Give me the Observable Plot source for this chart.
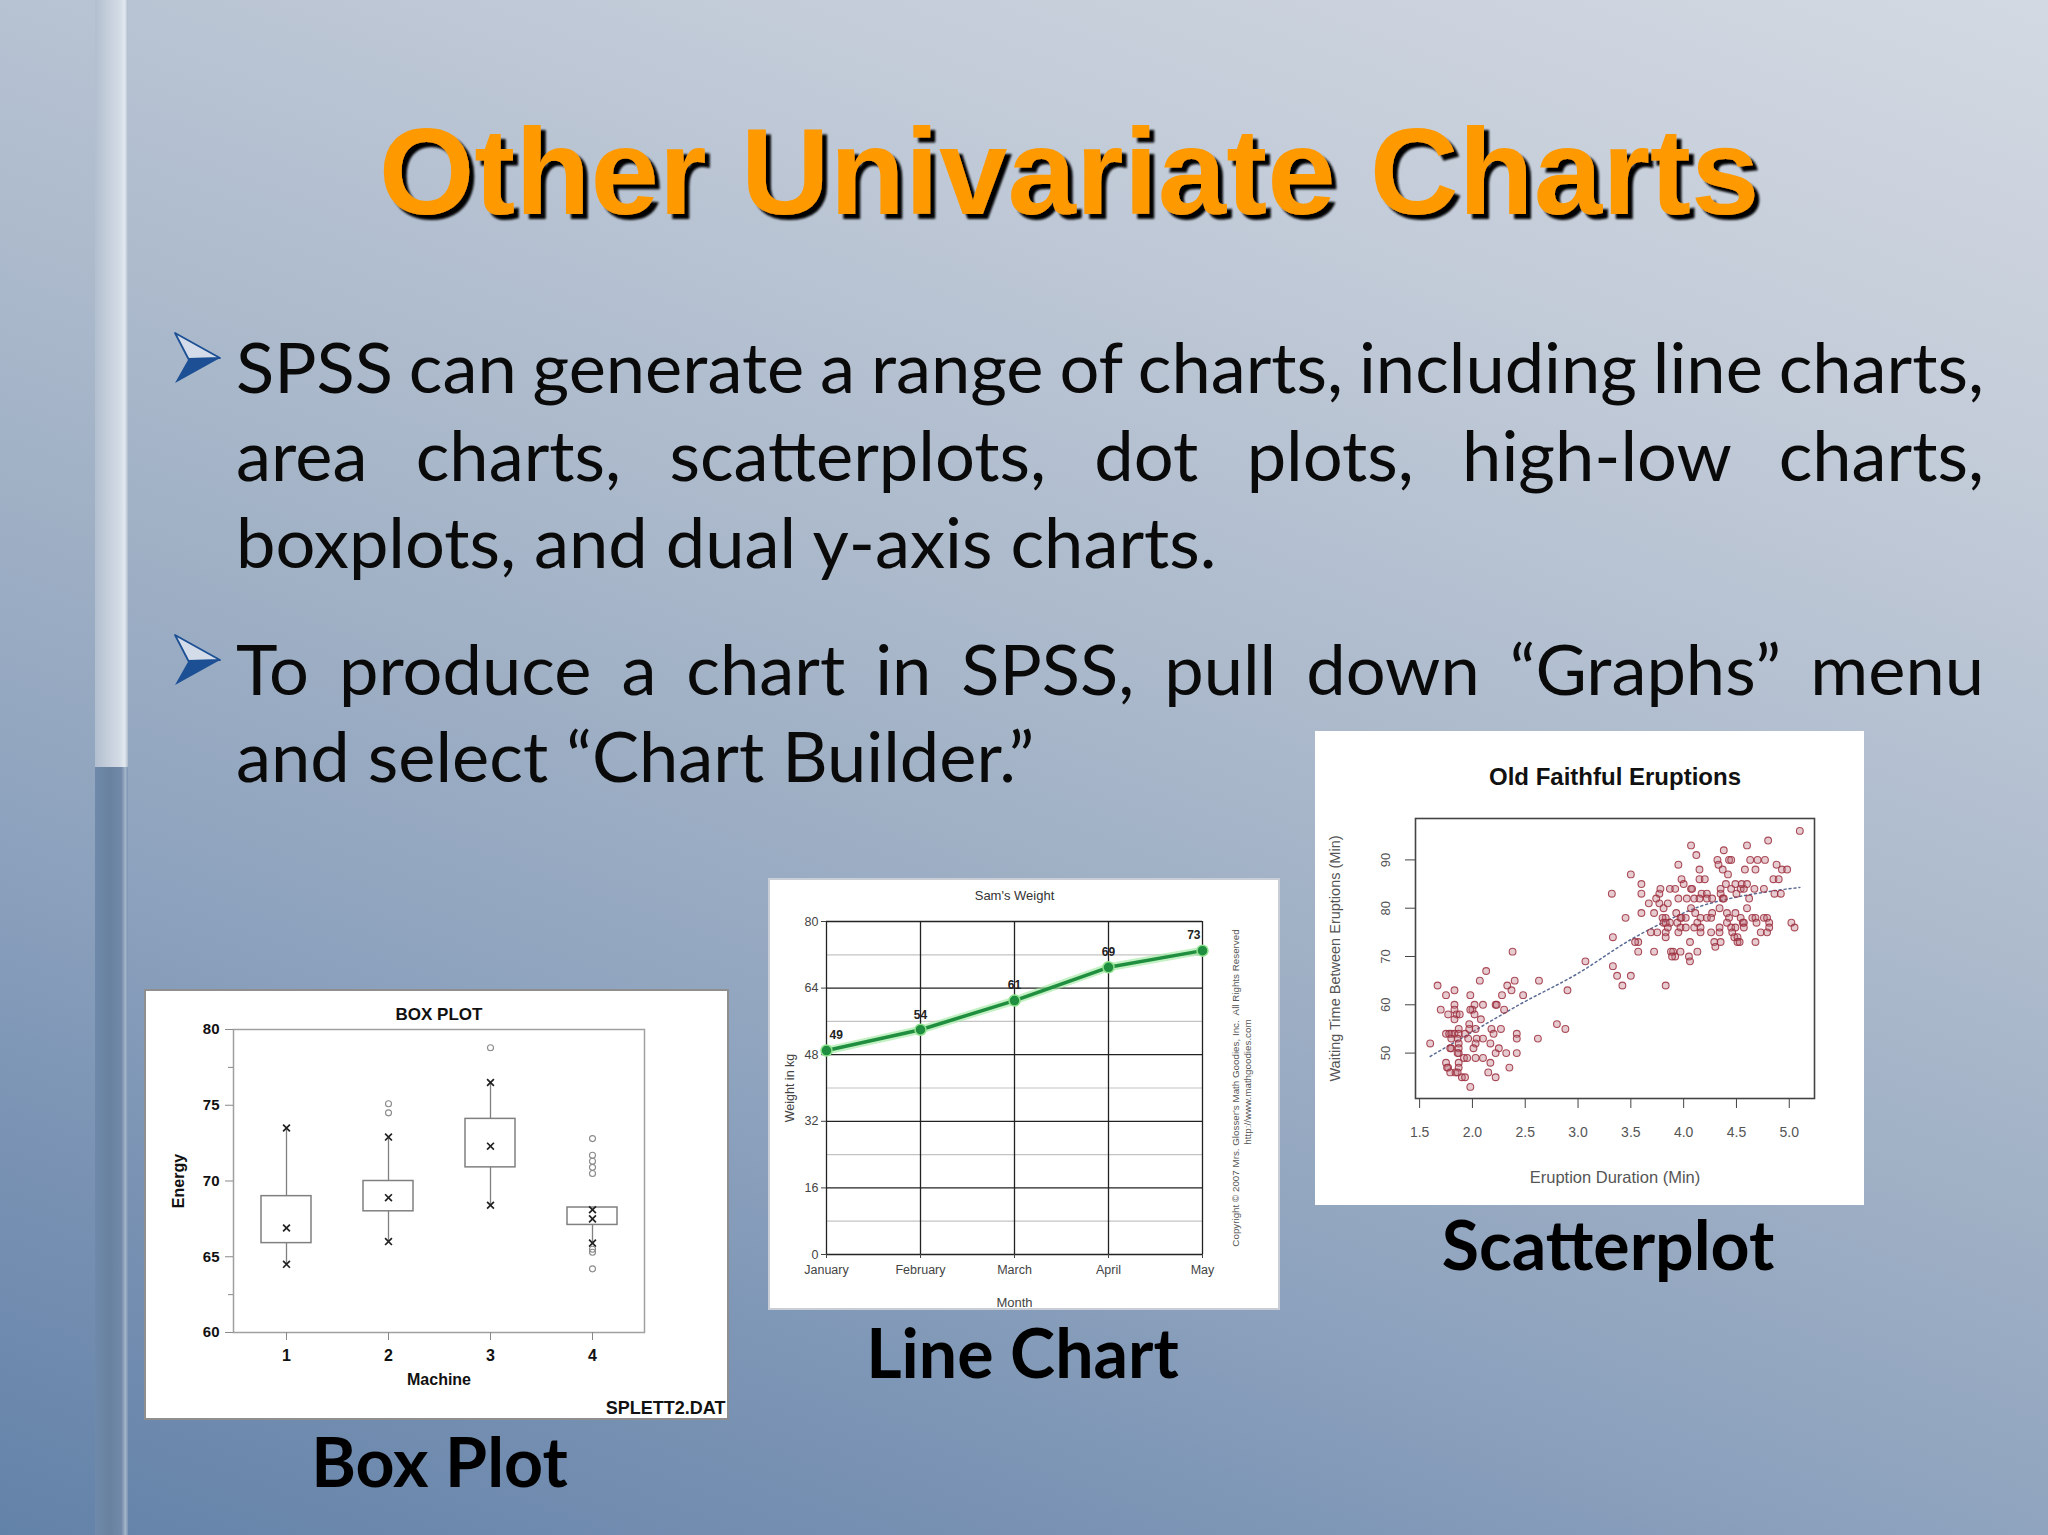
<!DOCTYPE html>
<html>
<head>
<meta charset="utf-8">
<script src="https://cdn.jsdelivr.net/npm/d3@7"></script>
<script src="https://cdn.jsdelivr.net/npm/@observablehq/plot@0.6"></script>
<style>
  html, body { margin: 0; padding: 0; }
  body {
    width: 2048px; height: 1535px; overflow: hidden; position: relative;
    background: linear-gradient(200deg, #D3D9E2 0%, #C2CBD8 22%, #B1BECF 38%, #A2B2C6 52%, #8EA3BE 68%, #7690B2 85%, #6382A8 100%);
  }
  .abs { position: absolute; }
  #overlay { position: absolute; left: 0; top: 0; }
</style>
</head>
<body>
<div class="abs" style="left:95px;top:0;width:33px;height:767px;background:linear-gradient(to right,#B2BFCF 0%,#C3CDDA 35%,#D3DBE5 75%,#E2E8EF 90%,#AEBBCB 100%)"></div>
<div class="abs" style="left:95px;top:767px;width:33px;height:768px;background:linear-gradient(to right,#6F89AB 0%,#68829F 45%,#7289A9 80%,#A4B5CA 92%,#7A92B2 100%)"></div>
<svg id="overlay" width="2048" height="1535"></svg>
<div id="boxChart" class="abs" style="left:144px;top:989px;width:585px;height:431px"></div>
<div id="lineChart" class="abs" style="left:768px;top:878px;width:512px;height:432px"></div>
<div id="scatterChart" class="abs" style="left:1315px;top:731px;width:549px;height:474px"></div>
<script>
// ---------------- DATA ----------------
// Box plot (SPLETT2.DAT)
const machines = [1, 2, 3, 4];
const boxQ1 = [65.9, 68.0, 70.9, 67.1];
const boxQ3 = [69.0, 70.0, 74.1, 68.25];
const whiskerLow = [64.5, 66.0, 68.4, 65.9];
const whiskerHigh = [73.5, 72.9, 76.5, 68.1];
const centerMark = [66.9, 68.9, 72.3, 67.5];
const outlierMachine = [2, 2, 3, 4, 4, 4, 4, 4, 4, 4, 4];
const outlierEnergy = [75.1, 74.5, 78.8, 72.8, 71.7, 71.3, 70.9, 70.5, 65.5, 65.3, 64.2];
const boxYTicks = [60, 65, 70, 75, 80];
const boxYMinor = [62.5, 77.5];

// Line chart (Sam's Weight)
const months = ["January", "February", "March", "April", "May"];
const weights = [49, 54, 61, 69, 73];
const weightMajor = [0, 16, 32, 48, 64, 80];
const weightMinor = [8, 24, 40, 56, 72];

// Scatterplot (Old Faithful) [eruption duration (min), waiting time (min)]
const faithfulPoints = [
  [2.38,71],[2.13,67],[1.67,64],[2.07,65],[2.40,65],[2.63,65],[2.33,64],[2.37,63],[2.90,63],[1.83,63],
  [1.75,62],[1.98,62],[2.28,62],[2.48,62],[1.83,60],[1.83,59],[2.02,60],[2.10,60],[2.22,60],[2.23,60],
  [2.00,59],[1.98,59],[1.70,59],[2.30,59],[1.77,58],[1.85,58],[2.02,58],[1.88,58],[2.08,57],[1.83,57],
  [1.97,56],[1.97,55],[2.80,56],[2.88,55],[1.87,55],[2.18,55],[2.27,55],[2.20,54],[1.75,54],[1.78,54],
  [1.80,54],[1.83,54],[1.87,54],[2.42,54],[1.93,54],[2.03,55],[2.42,53],[1.86,53],[1.96,53],[2.04,53],
  [2.10,53],[2.62,53],[1.60,52],[1.80,53],[1.87,52],[2.03,52],[2.17,52],[1.80,51],[1.79,51],[1.87,51],
  [2.01,51],[2.25,51],[2.22,50],[2.32,50],[2.42,50],[1.87,50],[1.86,50],[1.92,49],[1.95,49],[2.03,49],
  [2.10,49],[1.87,48],[1.75,48],[1.77,47],[2.17,48],[1.87,47],[1.76,47],[1.79,46],[2.35,47],[1.84,46],
  [1.86,46],[2.15,46],[1.90,45],[1.93,45],[2.22,45],[1.98,43],
  [3.07,69],[3.33,74],[3.33,68],[3.37,66],[3.50,66],[3.42,64],[3.45,78],[3.60,79],[3.72,79],[3.57,73],
  [3.57,71],[3.72,71],[3.83,64],[3.90,71],[3.92,70],[3.75,75],[3.83,75],[3.83,74],[3.83,78],[3.85,76],
  [3.67,81],[3.77,81],[3.81,80],[3.93,79],[3.32,83],[3.50,87],[3.60,85],[3.60,83],[3.77,83],[3.74,82],
  [5.10,96],[4.80,94],[4.60,93],[4.07,93],[4.12,91],[4.38,92],[4.32,90],[4.33,89],[4.37,88],[4.43,90],
  [4.45,90],[4.63,90],[4.70,90],[4.77,90],[4.88,89],[4.93,88],[4.98,88],[4.58,88],[4.68,88],[4.15,88],
  [4.42,87],[4.15,86],[4.20,86],[3.98,86],[4.00,85],[4.85,86],[4.90,86],[3.87,84],[3.92,84],[4.07,84],
  [4.08,84],[3.78,84],[4.17,83],[4.22,83],[4.03,82],[4.10,82],[4.15,82],[4.22,82],[4.27,82],[4.35,83],
  [4.37,82],[4.38,82],[4.49,85],[4.54,84],[4.57,84],[4.67,84],[4.76,84],[4.86,83],[4.92,83],[3.95,89],
  [3.95,82],[3.85,81],[3.98,78],[4.02,78],[4.07,80],[4.11,79],[4.16,78],[4.22,78],[4.27,79],[4.26,78],
  [4.34,80],[4.41,79],[4.43,78],[4.49,79],[4.54,78],[4.56,77],[4.60,80],[4.65,78],[4.68,78],[4.76,78],
  [4.79,78],[4.81,77],[4.81,76],[5.02,77],[5.05,76],[3.80,78],[3.81,77],[3.87,77],[3.94,77],[3.97,78],
  [4.10,76],[4.13,77],[4.16,76],[3.97,76],[4.02,76],[3.83,77],[3.95,75],[4.26,75],[4.34,76],[4.34,75],
  [4.41,77],[4.45,76],[4.49,76],[4.57,77],[4.57,76],[4.69,77],[4.73,75],[4.79,75],[3.69,75],[3.54,73],
  [3.88,71],[3.89,70],[3.97,71],[4.05,70],[4.06,69],[4.13,71],[4.06,73],[4.16,75],[4.29,73],[4.30,72],
  [4.35,73],[4.46,75],[4.48,74],[4.51,74],[4.51,73],[4.53,73],[4.68,73],[4.62,82],[4.50,83],[4.45,84],
  [4.55,85],[4.60,85],[4.40,85],[4.35,84]
];
const trendX = [1.6, 2.0, 2.45, 3.0, 3.5, 3.85, 4.16, 4.48, 4.79, 5.1];
const trendY = [49.3, 54.4, 60.1, 66.5, 73.5, 77.5, 80.4, 82.2, 83.4, 84.3];
const eruptionTicks = [1.5, 2.0, 2.5, 3.0, 3.5, 4.0, 4.5, 5.0];
const waitingTicks = [50, 60, 70, 80, 90];

// Slide text
const slideTitle = "Other Univariate Charts";
const bulletLines = [
  {text: "SPSS can generate a range of charts, including line charts,", y: 393, justify: true},
  {text: "area charts, scatterplots, dot plots, high-low charts,", y: 481, justify: true},
  {text: "boxplots, and dual y-axis charts.", y: 568, justify: false},
  {text: "To produce a chart in SPSS, pull down \u201CGraphs\u201D menu", y: 695, justify: true},
  {text: "and select \u201CChart Builder.\u201D", y: 782, justify: false}
];
const bulletTops = [333, 635];
const captions = [
  {text: "Box Plot", x: 439.5, y: 1487},
  {text: "Line Chart", x: 1022.5, y: 1378},
  {text: "Scatterplot", x: 1608, y: 1270}
];

// ---------------- SLIDE TEXT ----------------
const ov = d3.select("#overlay");
const defs = ov.append("defs");
const flt = defs.append("filter").attr("id", "titleShadow")
  .attr("x", "-5%").attr("y", "-30%").attr("width", "115%").attr("height", "170%");
flt.append("feDropShadow").attr("dx", 5).attr("dy", 5).attr("stdDeviation", 0.8)
  .attr("flood-color", "#000").attr("flood-opacity", 1);

ov.append("text")
  .attr("x", 1069).attr("y", 214).attr("text-anchor", "middle")
  .attr("font-family", "'Liberation Sans', Arial, sans-serif")
  .attr("font-weight", "bold").attr("font-size", 123)
  .attr("fill", "#FF9900").attr("filter", "url(#titleShadow)")
  .text(slideTitle);

const bodyG = ov.append("g").attr("font-family", "Lato, 'Open Sans', sans-serif").attr("fill", "#0a0a0a");
function measure(str, size, weight) {
  const t = bodyG.append("text").attr("font-size", size).attr("font-weight", weight || "normal").text(str);
  const w = t.node().getComputedTextLength();
  t.remove();
  return w;
}
const fsA = 100 * 966 / measure(bulletLines[2].text, 100);
const fsB = 100 * 810 / measure(bulletLines[4].text, 100);
const bodySize = (fsA + fsB) / 2;
const textLeft = 236, textRight = 1984;
for (const ln of bulletLines) {
  const t = bodyG.append("text").attr("x", textLeft).attr("y", ln.y)
    .attr("font-size", bodySize).text(ln.text);
  if (ln.justify) {
    const w = measure(ln.text, bodySize);
    const n = (ln.text.match(/ /g) || []).length;
    const ws = (textRight - textLeft - w) / n;
    t.style("word-spacing", ws + "px");
  }
}
for (const top of bulletTops) {
  const g = ov.append("g").attr("transform", `translate(175,${top})`);
  g.append("path").attr("d", "M0,0 L45,25 L13.5,26 Z")
    .attr("fill", "#D3DCE8").attr("stroke", "#1C4F94").attr("stroke-width", 1.8).attr("stroke-linejoin", "round");
  g.append("path").attr("d", "M13.5,26 L45,25 L0,50 Z").attr("fill", "#1C4F94");
}
const capSize = (100 * 340 / measure("Scatterplot", 100, "bold") + 100 * 251 / measure("Box Plot", 100, "bold")) / 2;
for (const c of captions) {
  bodyG.append("text").attr("x", c.x).attr("y", c.y).attr("text-anchor", "middle")
    .attr("font-size", capSize).attr("font-weight", "bold").attr("fill", "#000").text(c.text);
}

// ---------------- BOX PLOT ----------------
const boxData = machines.map((m, i) => ({machine: m, q1: boxQ1[i], q3: boxQ3[i], lo: whiskerLow[i], hi: whiskerHigh[i], mid: centerMark[i]}));
const markData = boxData.flatMap(d => [
  {machine: d.machine, energy: d.lo}, {machine: d.machine, energy: d.hi}, {machine: d.machine, energy: d.mid}
]);
const outData = outlierMachine.map((m, i) => ({machine: m, energy: outlierEnergy[i]}));
const mid = {textAnchor: "middle", lineAnchor: "middle"};

const boxPlot = Plot.plot({
  width: 585, height: 431,
  marginLeft: 89, marginRight: 85, marginTop: 40, marginBottom: 88,
  style: {background: "white", fontFamily: "'Liberation Sans', Arial, sans-serif", color: "#111", outline: "2px solid #8f8f8f", outlineOffset: "-2px"},
  x: {type: "band", domain: machines, paddingInner: 0.513, paddingOuter: 0.255},
  y: {domain: [60, 80]},
  marks: [
    Plot.frame({stroke: "#a0a0a0", strokeWidth: 1.5}),
    Plot.ruleX(boxData, {x: "machine", y1: "lo", y2: "hi", stroke: "#808080", strokeWidth: 1.3}),
    Plot.barY(boxData, {x: "machine", y1: "q1", y2: "q3", fill: "white", stroke: "#808080", strokeWidth: 1.5}),
    Plot.dot(markData, {x: "machine", y: "energy", symbol: "times", r: 3.2, stroke: "#222", strokeWidth: 1.7}),
    Plot.dot(outData, {x: "machine", y: "energy", r: 3, fill: "none", stroke: "#8a8a8a", strokeWidth: 1.1}),
    Plot.axisY({ticks: boxYTicks, tickSize: 8, tickPadding: 6, fontSize: 15, fontWeight: "bold", fill: "#111", stroke: "#888", label: null}),
    Plot.axisY({ticks: boxYMinor, tickSize: 5, fill: "none", stroke: "#888", label: null}),
    Plot.axisX({tickSize: 8, tickPadding: 9, fontSize: 16, fontWeight: "bold", fill: "#111", stroke: "#888", label: null}),
    Plot.text(["BOX PLOT"], {...mid, frameAnchor: "top", dy: -15, fontSize: 17, fontWeight: "bold"}),
    Plot.text(["Machine"], {...mid, frameAnchor: "bottom", dy: 47, fontSize: 16, fontWeight: "bold"}),
    Plot.text(["Energy"], {...mid, frameAnchor: "left", dx: -55, rotate: -90, fontSize: 16, fontWeight: "bold"}),
    Plot.text(["SPLETT2.DAT"], {frameAnchor: "bottom-right", dx: 81, dy: 76, textAnchor: "end", lineAnchor: "middle", fontSize: 18, fontWeight: "bold"})
  ]
});
document.getElementById("boxChart").append(boxPlot);

// ---------------- LINE CHART ----------------
const lineData = months.map((m, i) => ({month: m, weight: weights[i]}));
const lineLabel = {x: "month", y: "weight", text: d => String(d.weight), dy: -15, fontWeight: "bold", fontSize: 12, fill: "#222"};
const linePlot = Plot.plot({
  width: 512, height: 432,
  marginLeft: 58, marginRight: 78, marginTop: 43, marginBottom: 56,
  style: {background: "white", fontFamily: "'Liberation Sans', Arial, sans-serif", color: "#333", outline: "2px solid #c9ced6", outlineOffset: "-2px"},
  x: {type: "point", domain: months, padding: 0},
  y: {domain: [0, 80]},
  marks: [
    Plot.ruleY(weightMinor, {stroke: "#c4c4c4", strokeWidth: 1.2}),
    Plot.ruleY(weightMajor, {stroke: "#222", strokeWidth: 1.3}),
    Plot.ruleX(months, {stroke: "#222", strokeWidth: 1.3}),
    Plot.axisY({ticks: weightMajor, tickSize: 5, tickPadding: 3, fontSize: 12.5, fill: "#444", stroke: "#444", label: null}),
    Plot.axisX({tickSize: 4, tickPadding: 7, fontSize: 12.5, fill: "#444", stroke: "#444", label: null}),
    Plot.line(lineData, {x: "month", y: "weight", stroke: "#9be89b", strokeWidth: 8, strokeOpacity: 0.6}),
    Plot.line(lineData, {x: "month", y: "weight", stroke: "#1f8f3f", strokeWidth: 3.5}),
    Plot.dot(lineData, {x: "month", y: "weight", r: 5.5, fill: "#1f8f3f", stroke: "#8ee08e", strokeWidth: 1.5}),
    Plot.text(lineData, {...lineLabel, filter: d => d.month === "January", textAnchor: "start", dx: 3}),
    Plot.text(lineData, {...lineLabel, filter: d => d.month !== "January" && d.month !== "May"}),
    Plot.text(lineData, {...lineLabel, filter: d => d.month === "May", textAnchor: "end", dx: -2}),
    Plot.text(["Sam's Weight"], {...mid, frameAnchor: "top", dy: -26, fontSize: 13, fill: "#333"}),
    Plot.text(["Month"], {...mid, frameAnchor: "bottom", dy: 48, fontSize: 13, fill: "#444"}),
    Plot.text(["Weight in kg"], {...mid, frameAnchor: "left", dx: -37, rotate: -90, fontSize: 12.5, fill: "#444"}),
    Plot.text(["Copyright \u00A9 2007 Mrs. Glosser's Math Goodies, Inc.  All Rights Reserved"], {...mid, frameAnchor: "right", dx: 33, rotate: -90, fontSize: 9.8, fill: "#555"}),
    Plot.text(["http://www.mathgoodies.com"], {...mid, frameAnchor: "right", dx: 45, dy: -6, rotate: -90, fontSize: 9.8, fill: "#555"})
  ]
});
document.getElementById("lineChart").append(linePlot);

// ---------------- SCATTERPLOT ----------------
const trendData = trendX.map((x, i) => ({x, y: trendY[i]}));
const scatterPlot = Plot.plot({
  width: 549, height: 474,
  marginLeft: 100, marginRight: 50, marginTop: 87, marginBottom: 107,
  style: {background: "white", fontFamily: "'Liberation Sans', Arial, sans-serif", color: "#444"},
  x: {domain: [1.461, 5.239]},
  y: {domain: [40.6, 98.57]},
  marks: [
    Plot.line(trendData, {x: "x", y: "y", stroke: "#5b6b95", strokeWidth: 1.5, strokeDasharray: "2,3", curve: "monotone-x"}),
    Plot.dot(faithfulPoints, {x: d => d[0], y: d => d[1], r: 3.4, stroke: "#9c2f3e", strokeWidth: 1.1, strokeOpacity: 0.85, fill: "#b86a78", fillOpacity: 0.35}),
    Plot.frame({stroke: "#444", strokeWidth: 1.6}),
    Plot.axisX({ticks: eruptionTicks, tickFormat: d3.format(".1f"), tickSize: 10, tickPadding: 19, fontSize: 14, fill: "#555", stroke: "#444", label: null}),
    Plot.axisY({ticks: waitingTicks, tickSize: 10, fill: "none", stroke: "#444", label: null}),
    Plot.text(waitingTicks, {...mid, y: d => d, text: d => String(d), frameAnchor: "left", dx: -30, rotate: -90, fontSize: 13, fill: "#555"}),
    Plot.text(["Old Faithful Eruptions"], {...mid, frameAnchor: "top", dy: -41, fontSize: 24, fontWeight: "bold", fill: "#111"}),
    Plot.text(["Eruption Duration (Min)"], {...mid, frameAnchor: "bottom", dy: 79, fontSize: 16.5, fill: "#555"}),
    Plot.text(["Waiting Time Between Eruptions (Min)"], {...mid, frameAnchor: "left", dx: -80, rotate: -90, fontSize: 14.5, fill: "#555"})
  ]
});
document.getElementById("scatterChart").append(scatterPlot);
</script>
</body>
</html>
